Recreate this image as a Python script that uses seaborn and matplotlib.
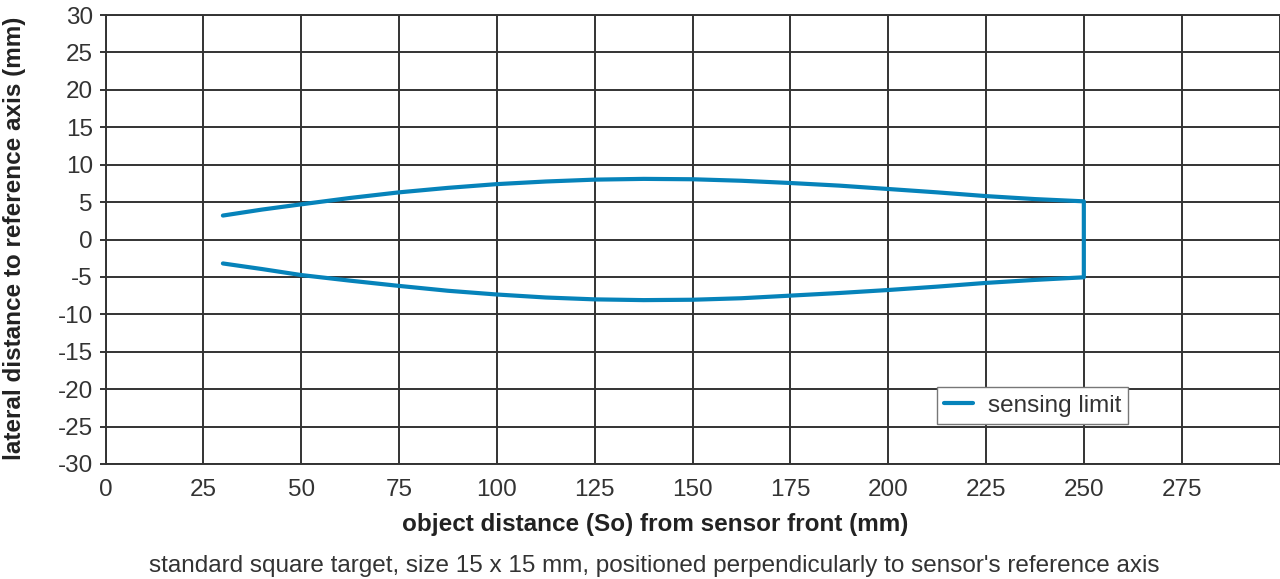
import matplotlib
matplotlib.use("Agg")
import matplotlib.pyplot as plt
import seaborn as sns
import pandas as pd

# data
x_upper = [30, 40, 50, 62.5, 75, 87.5, 100, 112.5, 125, 137.5, 150, 162.5, 175, 187.5, 200, 212.5, 225, 237.5, 250]
y_upper = [3.2, 4.0, 4.7, 5.55, 6.3, 6.9, 7.4, 7.75, 8.0, 8.1, 8.05, 7.85, 7.55, 7.2, 6.75, 6.3, 5.8, 5.4, 5.1]
x_lower = [250, 237.5, 225, 212.5, 200, 187.5, 175, 162.5, 150, 137.5, 125, 112.5, 100, 87.5, 75, 62.5, 50, 40, 30]
y_lower = [-5.05, -5.4, -5.8, -6.3, -6.75, -7.15, -7.5, -7.85, -8.05, -8.1, -8.0, -7.75, -7.35, -6.85, -6.2, -5.5, -4.75, -3.95, -3.2]
series_name = "sensing limit"
x_ticks = [0, 25, 50, 75, 100, 125, 150, 175, 200, 225, 250, 275]
y_ticks = [30, 25, 20, 15, 10, 5, 0, -5, -10, -15, -20, -25, -30]

df = pd.DataFrame({
    "x": x_upper + x_lower,
    "y": y_upper + y_lower,
    "s": [series_name] * (len(x_upper) + len(x_lower)),
})

sns.set_theme(style="white")
plt.rcParams['font.family'] = ['Liberation Sans', 'DejaVu Sans']

FS = 17.5
fig = plt.figure(figsize=(12.8, 5.79), dpi=100)
ax = fig.add_axes([105.5 / 1280, 1 - 464 / 579, (1279.5 - 105.5) / 1280, (464 - 15) / 579])

grid_c = "#333333"
sns.lineplot(data=df, x="x", y="y", hue="s", sort=False, estimator=None,
             palette=["#0683ba"], linewidth=3.0, ax=ax, zorder=3)

ax.set_xlim(0, 300)
ax.set_ylim(-30, 30)
ax.set_xticks(x_ticks)
ax.set_yticks(y_ticks)
ax.set_xticklabels([str(v) for v in x_ticks])
ax.set_yticklabels([str(v) for v in y_ticks])
ax.grid(True, color=grid_c, linewidth=1.4)
ax.set_axisbelow(True)
for sp in ax.spines.values():
    sp.set_color(grid_c)
    sp.set_linewidth(1.4)
    sp.set_visible(True)

ax.tick_params(axis="y", which="major", length=4, width=1.4, color=grid_c,
               labelsize=FS, labelcolor="#333333", pad=5, left=True)
ax.tick_params(axis="x", which="major", length=0, labelsize=FS,
               labelcolor="#333333", pad=11)

ax.set_xlabel("object distance (So) from sensor front (mm)", fontsize=FS,
              fontweight="bold", color="#222222")
ax.set_ylabel("lateral distance to reference axis (mm)", fontsize=FS,
              fontweight="bold", color="#222222")
ax.xaxis.set_label_coords((655 - 105.5) / 1174, (464 - 525) / 449)
ax.yaxis.set_label_coords((15 - 105.5) / 1174, (464 - 238) / 449)
ax.xaxis.label.set_va("center")
ax.yaxis.label.set_va("center")

fig.text(654 / 1280, 1 - 566 / 579,
         "standard square target, size 15 x 15 mm, positioned perpendicularly to sensor's reference axis",
         ha="center", va="center", fontsize=FS, color="#333333")

leg = ax.legend(loc="lower left", bbox_to_anchor=(0.708, 0.089), fontsize=FS,
                frameon=True, fancybox=False, borderpad=0.3, handlelength=1.2,
                handletextpad=0.6, borderaxespad=0)
leg.get_frame().set_edgecolor("#777777")
leg.get_frame().set_linewidth(1.0)
leg.get_frame().set_alpha(1)
for t in leg.get_texts():
    t.set_color("#333333")
for l in leg.get_lines():
    l.set_linewidth(3.0)

fig.savefig("out.png", dpi=100)
